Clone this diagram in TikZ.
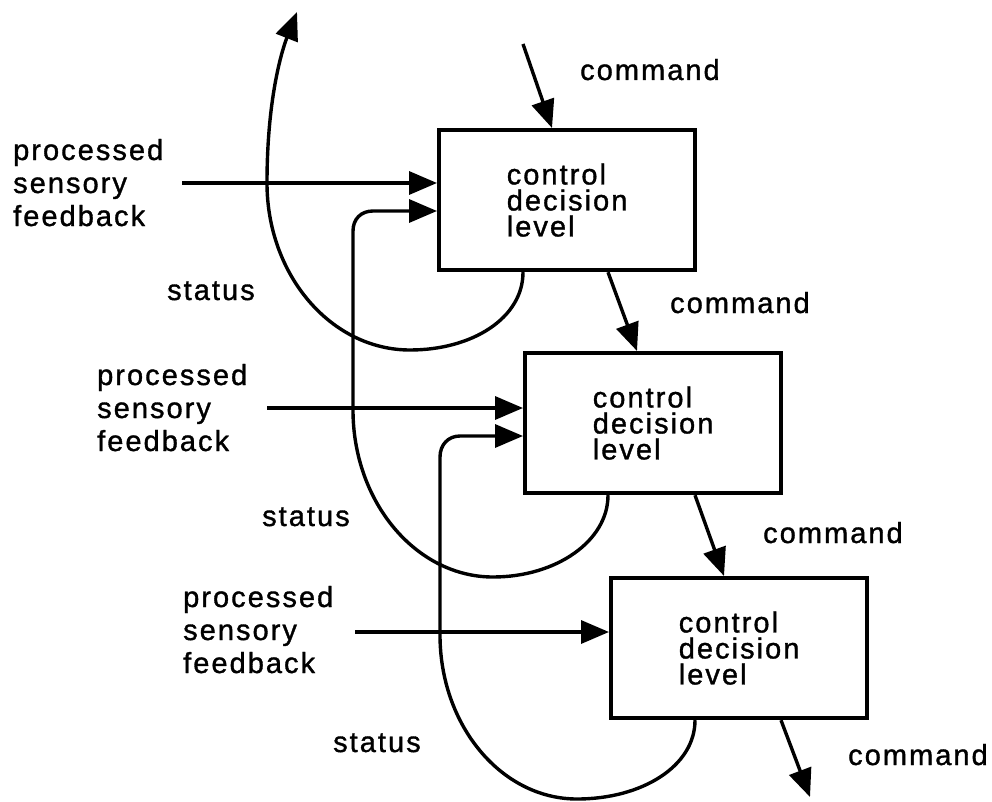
\documentclass[tikz,border=0pt]{standalone}
\usepackage{fontspec}
\setmainfont{Liberation Sans}[LetterSpace=7,FakeBold=1.2]
\usetikzlibrary{arrows.meta,calc}

\begin{document}
\begin{tikzpicture}[x=1pt,y=1pt,
  conn/.style={line width=3.4pt, -{Triangle[length=28pt,width=23pt]}},
  levelbox/.style={draw, line width=4.2pt, minimum width=256pt, minimum height=140pt,
    align=left, font=\fontsize{29}{26}\selectfont, inner sep=0pt, anchor=north west},
  lbl/.style={font=\fontsize{29}{33}\selectfont, inner sep=0pt, anchor=base west},
  lbl3/.style={lbl, align=left}]

\useasboundingbox (0,0) rectangle (992,-802);

% the three control decision levels
\node[levelbox] (b1) at (437,-128) {control\\decision\\level};
\node[levelbox] (b2) at (523,-351) {control\\decision\\level};
\node[levelbox] (b3) at (609,-576) {control\\decision\\level};

% labels (base anchor sits on the last line)
\node[lbl3] (f1) at (13,-226) {processed\\sensory\\feedback};
\node[lbl3] (f2) at (97,-451) {processed\\sensory\\feedback};
\node[lbl3] (f3) at (183,-673) {processed\\sensory\\feedback};

\node[lbl] (t1) at (167,-300) {status};
\node[lbl] (t2) at (262,-526) {status};
\node[lbl] (t3) at (333,-752) {status};

\node[lbl] (k0) at (580,-80) {command};
\node[lbl] (k1) at (670,-313) {command};
\node[lbl] (k2) at (763,-543) {command};
\node[lbl] (k3) at (848,-765) {command};

% sensory feedback inputs
\coordinate (f1s) at (182,-183);
\coordinate (f2s) at (267,-408);
\coordinate (f3s) at (355,-632);
\draw[conn] (f1s) -- (f1s -| b1.west);
\draw[conn] (f2s) -- (f2s -| b2.west);
\draw[conn] (f3s) -- (f3s -| b3.west);

% commands passed down the hierarchy
\coordinate (c0) at (523,-44);
\coordinate (c3) at (810,-797);
\draw[conn] (c0) -- ($(b1.north west)+(115,0)$);
\draw[conn] ($(b1.south west)+(171,0)$) -- ($(b2.north west)+(114,0)$);
\draw[conn] ($(b2.south west)+(172,0)$) -- ($(b3.north west)+(115,0)$);
\draw[conn] ($(b3.south west)+(172,0)$) -- (c3);

% status reported upward
\coordinate (s1a) at ($(b1.south west)+(86,0)$);
\coordinate (s1b) at (410,-350);
\coordinate (s1c) at (267,-183);
\coordinate (s1e) at (297,-12);
\draw[conn] (s1a) .. controls +(0,-46) and +(62,0) .. (s1b)
  .. controls +(-79,0) and +(0,-92) .. (s1c)
  .. controls +(0,90) and +(-13,-33) .. (s1e);

\coordinate (s2a) at ($(b2.south west)+(85,0)$);
\coordinate (s2b) at (493,-577);
\coordinate (s2c) at (353,-410);
\coordinate (s2d) at (353,-231);
\coordinate (s2e) at (373,-211);
\draw[conn] (s2a) .. controls +(0,-46) and +(63,0) .. (s2b)
  .. controls +(-77,0) and +(0,-92) .. (s2c) -- (s2d)
  .. controls +(0,12) and +(-12,0) .. (s2e) -- (s2e -| b1.west);

\coordinate (s3a) at ($(b3.south west)+(86,0)$);
\coordinate (s3b) at (577,-799);
\coordinate (s3c) at (440,-635);
\coordinate (s3d) at (440,-457);
\coordinate (s3e) at (460,-436);
\draw[conn] (s3a) .. controls +(0,-46) and +(65,0) .. (s3b)
  .. controls +(-76,0) and +(0,-90) .. (s3c) -- (s3d)
  .. controls +(0,12) and +(-12,0) .. (s3e) -- (s3e -| b2.west);

\end{tikzpicture}
\end{document}
